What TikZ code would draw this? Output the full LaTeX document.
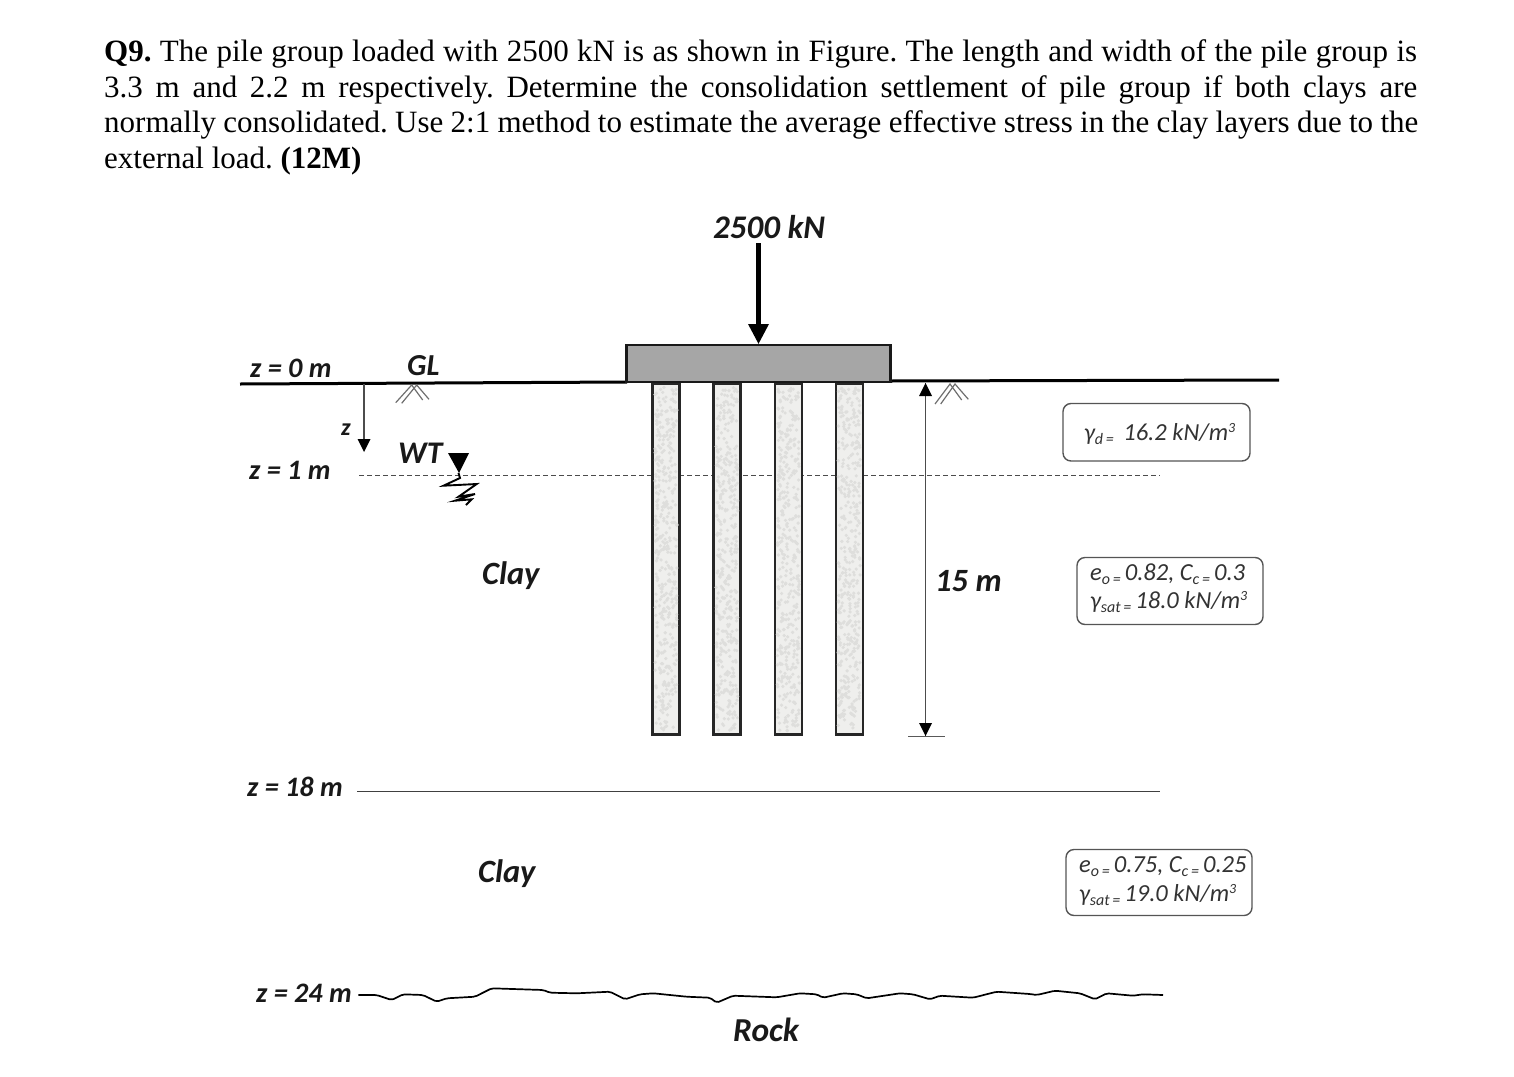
\documentclass[tikz,border=0pt]{standalone}
\usepackage{fontspec}
\setmainfont{Liberation Serif}
\newfontfamily\labfont{Carlito}
\newcommand{\sbs}[1]{\raisebox{-4pt}{\fontsize{16}{16}\selectfont #1}}
\newcommand{\sps}[1]{\raisebox{7.5pt}{\fontsize{14}{14}\selectfont #1}}
\newcommand{\gam}[1]{{\fontsize{24}{24}\selectfont γ}\sbs{#1}}
\definecolor{capgray}{HTML}{A6A6A6}
\definecolor{pilegray}{HTML}{EFEFED}
\definecolor{speck}{HTML}{DEDEDC}
\definecolor{boxline}{HTML}{555555}
\definecolor{boxtext}{HTML}{333333}
\definecolor{hatch}{HTML}{6E6E6E}
\tikzset{
  titleline/.style={anchor=base west,inner sep=0pt,font=\fontsize{31}{36}\selectfont\frenchspacing},
  lab/.style={anchor=base west,inner sep=0pt,font=\labfont\bfseries\itshape\fontsize{28.2}{30}\selectfont,text=black!90},
  bigLab/.style={lab,font=\labfont\bfseries\itshape\fontsize{33}{36}\selectfont},
  boxtxt/.style={anchor=base west,inner sep=0pt,font=\labfont\itshape\fontsize{24.5}{28}\selectfont,text=boxtext},
  propbox/.style={draw=boxline,line width=1.4pt,rounded corners=8pt,fill=white},
  pile/.style={draw=black!85,line width=2.2pt,fill=pilegray,minimum width=27pt,minimum height=351pt,inner sep=0pt},
  ground/.style={line width=3pt,black},
  hatchline/.style={draw=hatch,line width=1.2pt},
  soilline/.style={line width=0.9pt,black!75},
  thinarrow/.style={line width=1.3pt,black!70},
  tip/.style={fill=black,draw=none}
}
\begin{document}
\begin{tikzpicture}[x=1pt,y=-1pt]
\useasboundingbox (0,0) rectangle (1514,1076);
\node[titleline] (t1) at (104,61) {\makebox[1313pt][s]{\textbf{Q9.} The pile group loaded with 2500 kN is as shown in Figure. The length and width of the pile group is}};
\node[titleline] (t2) at (104,97) {\makebox[1313pt][s]{3.3 m and 2.2 m respectively. Determine the consolidation settlement of pile group if both clays are}};
\node[titleline] (t3) at (104,132) {\makebox[1314pt][s]{normally consolidated. Use 2:1 method to estimate the average effective stress in the clay layers due to the}};
\node[titleline] (t4) at (104,168) {external load. \textbf{(12M)}};
% water table and clay boundary
\coordinate (wtL) at (359,475); \coordinate (wtR) at (1160,475);
\draw[line width=0.9pt,black!70,dash pattern=on 5pt off 3pt] (wtL) -- (wtR);
\coordinate (claL) at (357,791); \coordinate (claR) at (1160,791);
\draw[soilline] (claL) -- (claR);
% piles
\foreach \n/\x in {p1/666,p2/727,p3/788.3,p4/849.2}{
  \node[pile] (\n) at (\x,559) {};
  \pgfmathsetseed{\x*10}
  \foreach \i in {1,...,420}{
    \fill[speck] (\x-11+rnd*22,387+rnd*344) circle (1.8pt);
  }
}
% ground
\coordinate (gl1) at (240,384); \coordinate (gl2) at (627,382);
\coordinate (gr1) at (890,381); \coordinate (gr2) at (1279,380);
\draw[ground] (gl1) -- (gl2);
\draw[ground] (gr1) -- (gr2);
% pile cap
\node[draw=black!90,line width=2.4pt,fill=capgray,minimum width=264pt,minimum height=37pt,inner sep=0pt] (cap) at (758.5,363.5) {};
% load
\coordinate (loadtop) at (758.5,243);
\coordinate (loadhead) at (758.5,325);
\draw[line width=5.5pt,black] (loadtop) -- (loadhead);
\fill[tip] (748,324) -- (769,324) -- (cap.north -| loadtop) -- cycle;
\node[bigLab] (load) at (713,238) {2500 kN};
% hatches
\draw[hatchline] (395.7,402.7) -- (411.7,385) -- (422.7,400);
\draw[hatchline] (401.7,403.3) -- (416.7,385) -- (429,399.3);
\draw[hatchline] (935,404) -- (950,384) -- (961.7,400);
\draw[hatchline] (940.7,404) -- (955,384) -- (968.3,399.3);
% z arrow
\coordinate (zt) at (364,384); \coordinate (zb) at (364,441);
\draw[thinarrow] (zt) -- (zb);
\fill[tip] (357.5,439) -- (370.5,439) -- (364,452) -- cycle;
\node[lab,font=\labfont\bfseries\itshape\fontsize{24}{26}\selectfont] (zlab) at (341,435) {z};
% water table symbol
\fill[tip] (448,453) -- (469,453) -- (459,473) -- cycle;
\draw[line width=1.9pt,black,line join=miter] (458.5,473) -- (460,478) -- (443.5,485.7) -- (476.7,484) -- (458.5,496.7) -- (475,494) -- (455,500.7) -- (471.7,499.3) -- (466,505);
% dimension
\coordinate (dt) at (925.5,383); \coordinate (db) at (925.5,736);
\draw[thinarrow] (dt) -- (db);
\fill[tip] (919,396) -- (932,396) -- (dt) -- cycle;
\fill[tip] (919,723) -- (932,723) -- (db) -- cycle;
\draw[line width=1.4pt,black!65] (908,736.5) -- (945,736.5);
% labels
\node[lab] (z0) at (250,377) {z = 0 m};
\node[bigLab,font=\labfont\bfseries\itshape\fontsize{30.5}{32}\selectfont] (gl) at (407,375) {GL};
\node[lab] (z1) at (249,479) {z = 1 m};
\node[bigLab,font=\labfont\bfseries\itshape\fontsize{31.5}{33}\selectfont] (wt) at (398,463) {WT};
\node[bigLab,font=\labfont\bfseries\itshape\fontsize{32.5}{34}\selectfont] (clay1) at (482,584) {Clay};
\node[bigLab,font=\labfont\bfseries\itshape\fontsize{32.5}{34}\selectfont] (clay2) at (478,882) {Clay};
\node[bigLab,font=\labfont\bfseries\itshape\fontsize{32.5}{34}\selectfont] (h15) at (935,591) {15 m};
\node[lab] (z18) at (247,796) {z = 18 m};
\node[lab] (z24) at (256,1002) {z = 24 m};
\node[bigLab,font=\labfont\bfseries\itshape\fontsize{33.5}{35}\selectfont] (rock) at (733,1041) {Rock};
% rock line
\draw[line width=1.7pt,black,line join=round,rounded corners=2pt] (358.3,995) -- (376.7,995) -- (391.7,1000) -- (403,994.3) -- (423,995) -- (436.7,1001.7) -- (446.7,998.3) -- (475,996.7) -- (491.7,988.3) -- (543.3,990) -- (550,992.7) -- (576.7,993.3) -- (610,991.7) -- (625,999.3) -- (640,994.3) -- (653.3,993.3) -- (686.7,996.7) -- (710,997.7) -- (716.7,1002.7) -- (733,995.7) -- (776.7,997.3) -- (800,993.3) -- (816.7,994.3) -- (823,997.7) -- (843,993.3) -- (856.7,994.3) -- (866.7,998.3) -- (900,993.3) -- (913,994.3) -- (930,999.3) -- (940,995.7) -- (973,997.7) -- (996.7,991.7) -- (1030,994) -- (1036.7,995) -- (1055,990.7) -- (1080,993.3) -- (1095,999.3) -- (1106.7,993.3) -- (1133,995.7) -- (1143,994.3) -- (1163,995);
% property boxes
\draw[propbox] (1063,403.5) rectangle (1250,461);
\node[boxtxt] (b1) at (1084,440) {\gam{d\,=}\, 16.2 kN/m\sps{3}};
\draw[propbox] (1077,557.5) rectangle (1263,624.5);
\node[boxtxt] (b2a) at (1090,580) {e\sbs{o\,=}\,0.82, C\sbs{c\,=}\,0.3};
\node[boxtxt] (b2b) at (1090,608) {\gam{sat\,=}\,18.0 kN/m\sps{3}};
\draw[propbox] (1066,849.5) rectangle (1252,915.5);
\node[boxtxt] (b3a) at (1079,872) {e\sbs{o\,=}\,0.75, C\sbs{c\,=}\,0.25};
\node[boxtxt] (b3b) at (1079,901) {\gam{sat\,=}\,19.0 kN/m\sps{3}};
\end{tikzpicture}
\end{document}
